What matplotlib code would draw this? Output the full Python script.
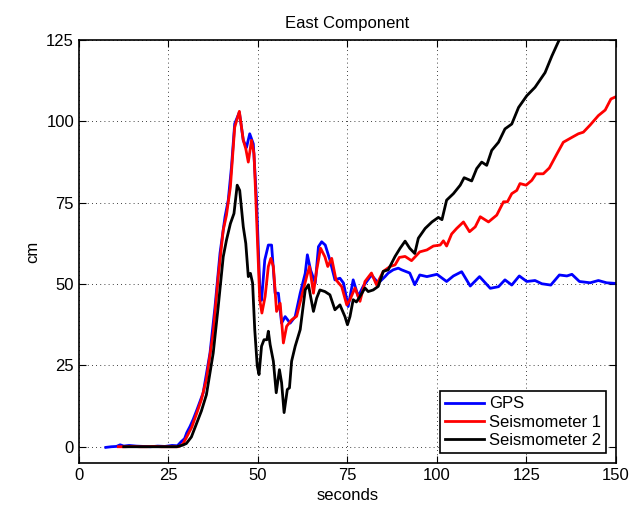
import matplotlib.pyplot as plt

plt.rcParams['font.family'] = ['Liberation Sans', 'DejaVu Sans']
plt.rcParams['font.size'] = 12

# GPS
gps_t = [7.5, 9, 10.5, 11.5, 12.5, 14, 16, 18, 20, 22, 24, 26, 27.5, 28.5, 29.5, 30.1, 31, 31.9, 33, 34.7,
         36.6, 38, 39.4, 40.8, 41.7, 42.6, 43.5, 44.8, 45.9, 46.8, 47.7, 48.7, 49.6, 50.5, 51, 51.9, 52.9, 53.8,
         54.8, 55.7, 56.6, 57.6, 59, 60.4, 61.8, 63.2, 63.8, 64.7, 66, 66.9, 67.8, 68.8, 70.1, 71.5, 72.9, 73.9,
         75.2, 76.6, 78, 79.4, 81.7, 83.6, 85.5, 86.4, 87.8, 89.2, 90.1, 92.4, 93.8, 95.2, 97.2, 100, 102.7,
         104.6, 106.9, 109.3, 111.9, 114.9, 117.2, 119, 120.9, 123, 125.1, 127.4, 129.3, 131.8, 134.2, 136.3,
         137.7, 139.8, 142.8, 145.1, 147.4, 150]
gps_cm = [-0.2, 0, 0.1, 0.6, 0.2, 0.4, 0.2, 0.1, 0, 0.2, 0.1, 0.4, 0.3, 1.5, 2.5, 4.3, 6.2, 8.4, 11.5, 16.6,
          28.8, 43, 59.5, 70.7, 75.8, 86, 99.3, 102.8, 94.2, 92, 96.2, 93.1, 75.8, 49.3, 45, 57.4, 62, 62,
          47.2, 47.2, 38, 40, 38, 40, 47.2, 53.3, 59, 54.3, 50.3, 61.5, 63, 62, 57.4, 51.3, 51.8, 50.3,
          43.1, 51.3, 46.2, 49.3, 52.8, 50.3, 52.3, 53.4, 54.4, 54.9, 54.4, 53.4, 49.8, 52.8, 52.3, 53, 50.8,
          52.5, 53.8, 49.4, 52.3, 48.7, 49.2, 51.3, 49.7, 52.5, 50.8, 51.1, 50.1, 49.7, 52.8, 52.5,
          53, 50.8, 50.4, 51.1, 50.4, 50.2]

# Seismometer 1
s1_t = [11, 13, 15, 17, 19, 21, 23, 25, 27.7, 29, 30, 31.5, 32.8, 34.2, 35.6, 37.5, 38.9, 40.3, 41.2, 42.3,
        43.5, 44.8, 45.9, 46.6, 47.3, 48.2, 48.9, 49.6, 50.5, 51.1, 52, 52.9, 53.6, 54.3, 55.2, 56.2, 57.1, 58,
        59.4, 60.8, 62.2, 63.6, 64.4, 65.5, 66.4, 67.5, 68.7, 69.5, 70.6, 71.8, 73.4, 74.8, 75.7, 77.1, 78.5,
        79.9, 81.7, 83.1, 85, 86.9, 88.3, 89.5, 91.1, 92.9, 95.2, 97.2, 99, 100.9, 101.8, 102.7, 104.1, 105.5,
        107.4, 109.1, 110.7, 112.1, 114.4, 116.7, 118.6, 119.7, 120.9, 122.3, 123.2, 124.9, 126.5, 127.7,
        129.7, 131.4, 133.5, 135.3, 137.7, 139.5, 140.9, 142.8, 145.1, 147, 148.6, 150]
s1_cm = [0, 0, 0.1, 0, 0, 0.1, 0, 0, 0, 0.8, 2.8, 6, 10, 14.5, 20.7, 35, 52.3, 66.6, 71.2, 79.9,
         98.2, 103.1, 94.2, 91.6, 87.5, 94.2, 90.1, 70.7, 45.2, 41.1, 46.2, 55.4, 57.9, 55.4, 41.6, 44.1, 31.9, 37,
         39, 40.1, 46.2, 52.3, 55.4, 47.2, 54.3, 61, 58.4, 55.4, 57.9, 51.3, 49.2, 43.6, 45.2, 48.8, 44.7,
         50.8, 53.4, 49.8, 53.9, 55.4, 55.9, 58.2, 58.5, 57.2, 59.9, 60.5, 61.7, 62, 63.3, 61.7, 65.4, 67.1,
         69.1, 66.1, 67.6, 70.7, 69.1, 71.2, 75.3, 75.3, 77.8, 78.8, 80.9, 80.4, 81.9, 83.9,
         83.9, 85.7, 90, 93.6, 95.1, 96.2, 96.7, 98.9, 101.8, 103.5, 106.9, 107.6]

# Seismometer 2
s2_t = [12.5, 15, 18, 21, 24, 27.3, 29, 30, 31.4, 32.8, 34.2, 35.6, 37.5, 38.9, 40.3, 41.2, 42.3, 43.3, 44.2,
        44.9, 45.9, 46.6, 47.3, 47.9, 48.5, 49.1, 49.8, 50.3, 51, 51.7, 52.5, 52.9, 53.4, 54.3, 55.1, 56, 56.6,
        57.3, 58.2, 58.8, 59.4, 60.4, 61.8, 63.2, 64.1, 64.7, 65.5, 66.4, 67.3, 68.7, 70.1, 71.5, 72.9, 74.3,
        75, 75.7, 76.6, 77.5, 78.5, 79.9, 80.8, 82.2, 83.6, 85, 86.4, 88.3, 89.7, 91.1, 92.4, 93.8, 94.8, 96.7,
        98.6, 100.4, 101.4, 102.7, 104.6, 106.5, 107.6, 109.7, 111.1, 112.5, 113.9, 115.3, 117.2, 119, 120.9,
        122.8, 125.1, 127.4, 130.2, 132.1, 134, 135.5]
s2_cm = [0, 0, 0, 0, 0, 0, 0.5, 1.0, 3, 7, 11, 16, 28.8, 43.1, 58.4, 63.5, 68.6, 71.7, 80.4,
         78.8, 67.6, 62.5, 52.3, 53.3, 50.3, 36, 24.8, 22.2, 30.9, 32.9, 32.9, 35.5, 31.4, 26.3, 16.6, 23.7, 19.7,
         10.5, 17.6, 18.1, 26.3, 30.9, 36, 48.2, 49.8, 46.2, 41.6, 45.7, 48.2, 47.7, 46.7, 42.1, 43.6, 40,
         37.5, 40, 45.2, 44.5, 46.2, 48.8, 47.7, 48.2, 49.3, 53.9, 54.4, 58.5, 61, 63.2, 61, 59.4, 64.1, 67.1,
         69.1, 70.5, 69.8, 75.8, 77.8, 80.4, 82.7, 81.7, 85.5, 87.5, 86.5, 91.1, 93.6, 97.7, 99.2,
         104.3, 107.9, 110.5, 115, 120.1, 124.7, 127.5]

fig = plt.figure(figsize=(6.4, 5.14), dpi=100)
ax = fig.add_axes([0.1234, 0.0992, 0.839, 0.8228])

ax.plot(gps_t, gps_cm, color='blue', linewidth=2, label='GPS')
ax.plot(s1_t, s1_cm, color='red', linewidth=2, label='Seismometer 1')
ax.plot(s2_t, s2_cm, color='black', linewidth=2, label='Seismometer 2')

ax.set_xlim(0, 150)
ax.set_ylim(-5, 125)
ax.set_xticks([0, 25, 50, 75, 100, 125, 150])
ax.set_yticks([0, 25, 50, 75, 100, 125])
ax.tick_params(direction='in', top=True, right=True, length=5, labelsize=12)
for s in ax.spines.values():
    s.set_linewidth(1.2)

ax.grid(True, color='black', linestyle=(0, (1, 4)), linewidth=0.6)

ax.set_title('East Component', fontsize=12, pad=9)
ax.set_xlabel('seconds', fontsize=12)
ax.set_ylabel('cm', fontsize=12)

leg = ax.legend(loc='lower right', fontsize=12, fancybox=False, framealpha=1,
                edgecolor='black', borderpad=0.3, labelspacing=0.2, handlelength=2.3,
                handletextpad=0.3, borderaxespad=0.6)
leg.get_frame().set_linewidth(1.2)

fig.savefig('out.png', dpi=100)
